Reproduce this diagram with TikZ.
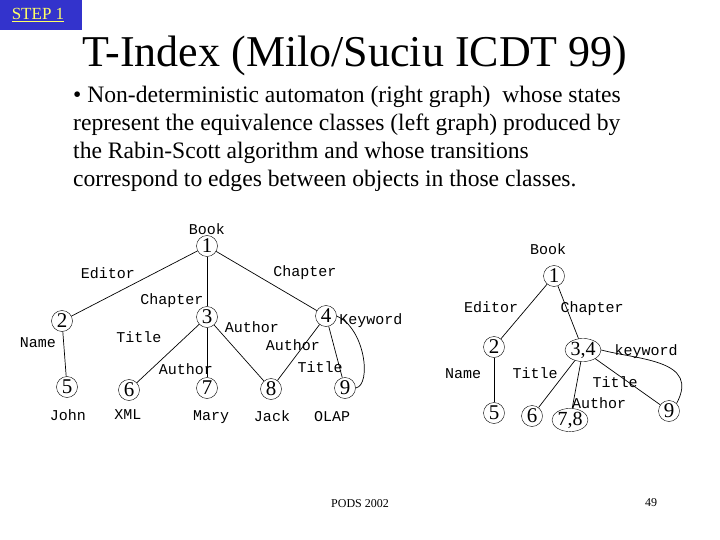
\documentclass[tikz,border=0pt]{standalone}
\usepackage{fontspec}
\setmainfont{Liberation Serif}
\setmonofont{Liberation Mono}
\usetikzlibrary{shapes.geometric}
\begin{document}
\begin{tikzpicture}[x=1pt,y=-1pt,
  st/.style={draw,circle,inner sep=0pt,minimum size=21pt,font=\fontsize{21}{21}\selectfont},
  el/.style={draw,ellipse,inner sep=0pt,minimum width=36pt,minimum height=22pt,font=\fontsize{20}{20}\selectfont},
  lb/.style={font=\ttfamily\fontsize{15}{15}\selectfont,inner sep=0pt},
  ed/.style={draw,line width=0.7pt}]
\useasboundingbox (0,0) rectangle (720,540);
\fill[fill={rgb,255:red,51;green,51;blue,204}] (0,0) rectangle (82,30);
\node[text={rgb,255:red,255;green,255;blue,102},font=\fontsize{17}{17}\selectfont] (step) at (38,15) {\underline{STEP 1}};
\node[font=\fontsize{44}{44}\selectfont] (title) at (355,56) {T-Index (Milo/Suciu ICDT 99)};
\node[anchor=north west,align=left,font=\fontsize{23.6}{28}\selectfont,inner sep=0pt] (txt) at (73,86)
{• Non-deterministic automaton (right graph)\ \ whose states\\
represent the equivalence classes (left graph) produced by\\
the Rabin-Scott algorithm and whose transitions\\
correspond to edges between objects in those classes.};
% left graph
\node[st] (a1) at (207,246) {1};
\node[st] (a2) at (62,321) {2};
\node[st] (a3) at (207,317) {3};
\node[st] (a4) at (326,316) {4};
\node[st] (a5) at (67,387) {5};
\node[st] (a6) at (129,390) {6};
\node[st] (a7) at (207,388) {7};
\node[st] (a8) at (271,389) {8};
\node[st] (a9) at (345,388) {9};
\draw[ed] (a1)--(a2); \draw[ed] (a1)--(a3); \draw[ed] (a1)--(a4);
\draw[ed] (a2)--(a5); \draw[ed] (a3)--(a6); \draw[ed] (a3)--(a7); \draw[ed] (a3)--(a8);
\draw[ed] (a4)--(a8); \draw[ed] (a4)--(a9);
\draw[ed] (a4.east) .. controls (365,328) and (372,385) .. (a9.east);
\node[lb] (lBook) at (207,229) {Book};
\node[lb] (lEd) at (108,273) {Editor};
\node[lb] (lCh1) at (305,273) {Chapter};
\node[lb] (lCh2) at (172,301) {Chapter};
\node[lb] (lTi1) at (139,337) {Title};
\node[lb] (lAu1) at (252,327) {Author};
\node[lb] (lAu2) at (293,345) {Author};
\node[lb] (lTi2) at (320,367) {Title};
\node[lb] (lAu3) at (186,369) {Author};
\node[lb] (lKw) at (371,321) {Keyword};
\node[lb] (lNa) at (38,343) {Name};
\node[lb] (John) at (68,415) {John};
\node[lb] (XML) at (128,415) {XML};
\node[lb] (Mary) at (211,417) {Mary};
\node[lb] (Jack) at (272,416) {Jack};
\node[lb] (OLAP) at (332,417) {OLAP};
% right graph
\node[st] (b1) at (554,276) {1};
\node[st] (b2) at (494,347) {2};
\node[el] (b34) at (583,350) {3,4};
\node[st] (b5) at (494,413) {5};
\node[st] (b6) at (532,416) {6};
\node[el] (b78) at (570,420) {7,8};
\node[st] (b9) at (669,411) {9};
\draw[ed] (b1)--(b2); \draw[ed] (b1)--(b34); \draw[ed] (b2)--(b5);
\draw[ed] (b34)--(b6); \draw[ed] (b34)--(b78); \draw[ed] (b34)--(b9);
\draw[ed] (b34.east) .. controls (640,360) and (700,360) .. (b9.north east);
\node[lb] (rBook) at (548,249) {Book};
\node[lb] (rEd) at (491,307) {Editor};
\node[lb] (rCh) at (592,309) {Chapter};
\node[lb] (rNa) at (463,374) {Name};
\node[lb] (rTi1) at (535,373) {Title};
\node[lb] (rKw) at (646,352) {keyword};
\node[lb] (rTi2) at (615,382) {Title};
\node[lb] (rAu) at (599,403) {Author};
\node[font=\fontsize{12}{12}\selectfont] (pods) at (360,504) {PODS 2002};
\node[font=\fontsize{12}{12}\selectfont] (pg) at (651,503) {49};
\end{tikzpicture}
\end{document}
